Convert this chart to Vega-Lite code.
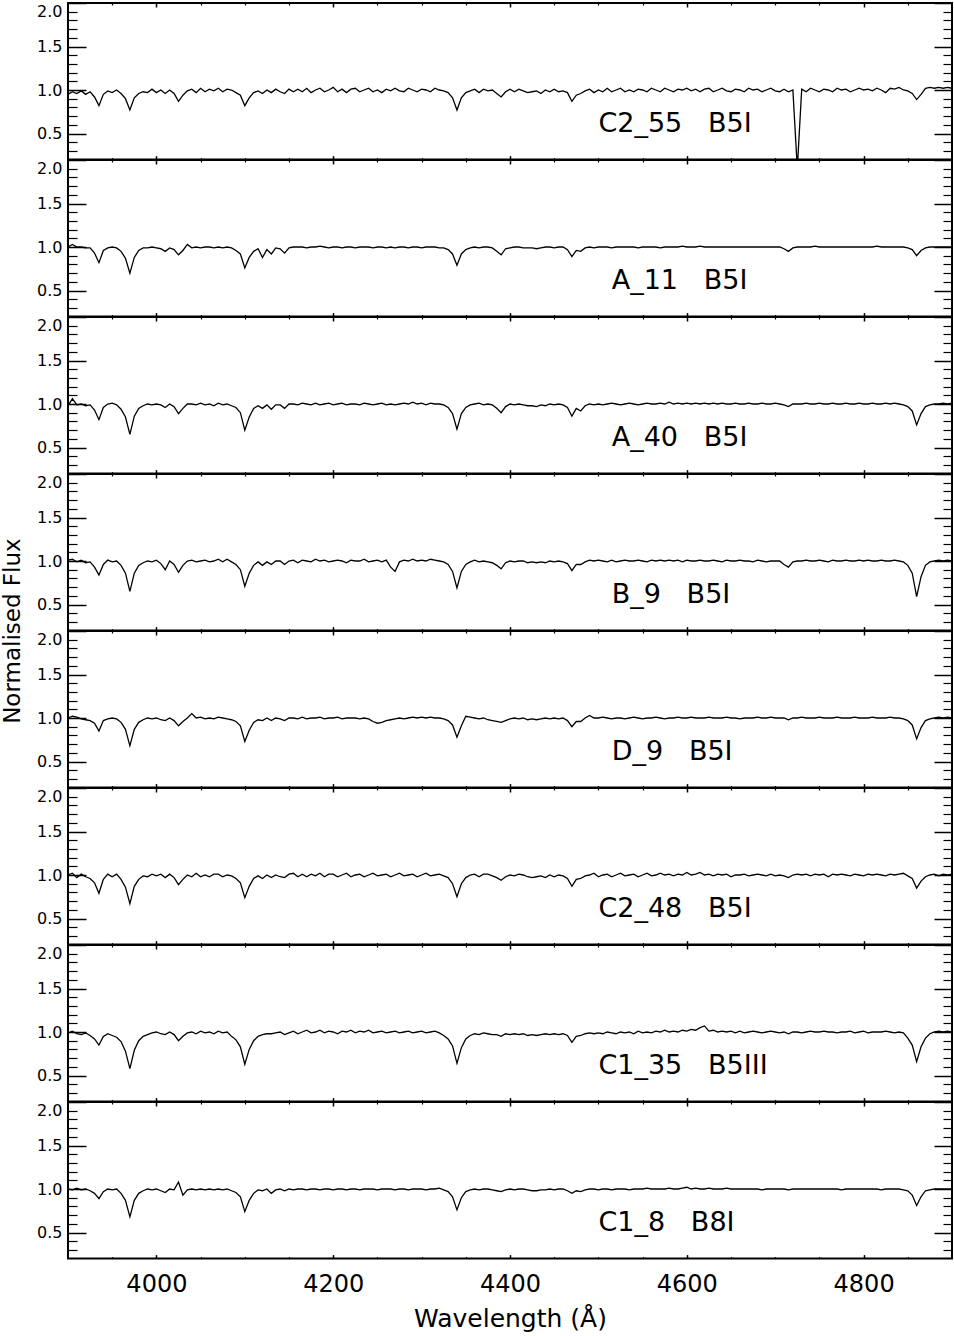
{
"$schema":"https://vega.github.io/schema/vega-lite/v6.json",
"padding":{"left":0,"top":1,"right":1,"bottom":0},
"spacing":0,
"bounds":"flush",
"config":{"view":{"stroke":"black","strokeWidth":2},"axis":{"domain":false,"grid":false,"minExtent":0,"tickColor":"black","labelColor":"black","titleColor":"black","labelFont":"DejaVu Sans","titleFont":"DejaVu Sans","titleFontWeight":"normal"}},
"datasets":{"labels":[
{"key":"C2_55","label":"C2_55\u00a0\u00a0\u00a0B5I"},
{"key":"A_11","label":"A_11\u00a0\u00a0\u00a0B5I"},
{"key":"A_40","label":"A_40\u00a0\u00a0\u00a0B5I"},
{"key":"B_9","label":"B_9\u00a0\u00a0\u00a0B5I"},
{"key":"D_9","label":"D_9\u00a0\u00a0\u00a0B5I"},
{"key":"C2_48","label":"C2_48\u00a0\u00a0\u00a0B5I"},
{"key":"C1_35","label":"C1_35\u00a0\u00a0\u00a0B5III"},
{"key":"C1_8","label":"C1_8\u00a0\u00a0\u00a0B8I"}
]},
"data":{"values":[
{"w":3900,"C2_55":0.95,"A_11":1.00,"A_40":0.98,"B_9":1.01,"D_9":1.00,"C2_48":1.00,"C1_35":0.99,"C1_8":1.00},
{"w":3905,"C2_55":0.98,"A_11":1.03,"A_40":1.06,"B_9":1.02,"D_9":1.02,"C2_48":1.02,"C1_35":1.01,"C1_8":0.99},
{"w":3910,"C2_55":0.96,"A_11":1.00,"A_40":0.99,"B_9":0.99,"D_9":1.01,"C2_48":0.97,"C1_35":0.98,"C1_8":1.01},
{"w":3915,"C2_55":0.99,"A_11":1.00,"A_40":1.00,"B_9":1.01,"D_9":0.99,"C2_48":1.01,"C1_35":0.97,"C1_8":0.99},
{"w":3920,"C2_55":0.95,"A_11":0.99,"A_40":0.98,"B_9":0.98,"D_9":0.98,"C2_48":0.98,"C1_35":0.99,"C1_8":1.00},
{"w":3925,"C2_55":0.98,"A_11":0.99,"A_40":0.99,"B_9":0.99,"D_9":0.97,"C2_48":0.96,"C1_35":0.96,"C1_8":0.98},
{"w":3930,"C2_55":0.92,"A_11":0.93,"A_40":0.93,"B_9":0.93,"D_9":0.94,"C2_48":0.91,"C1_35":0.92,"C1_8":0.95},
{"w":3935,"C2_55":0.82,"A_11":0.82,"A_40":0.82,"B_9":0.84,"D_9":0.85,"C2_48":0.79,"C1_35":0.85,"C1_8":0.89},
{"w":3940,"C2_55":0.95,"A_11":0.96,"A_40":0.96,"B_9":0.96,"D_9":0.97,"C2_48":0.95,"C1_35":0.95,"C1_8":0.97},
{"w":3945,"C2_55":0.99,"A_11":0.99,"A_40":1.00,"B_9":1.01,"D_9":0.99,"C2_48":1.01,"C1_35":0.98,"C1_8":1.00},
{"w":3950,"C2_55":0.97,"A_11":1.00,"A_40":1.01,"B_9":0.99,"D_9":1.00,"C2_48":0.98,"C1_35":0.96,"C1_8":0.99},
{"w":3955,"C2_55":1.00,"A_11":0.99,"A_40":0.99,"B_9":1.00,"D_9":0.99,"C2_48":1.01,"C1_35":0.94,"C1_8":1.00},
{"w":3960,"C2_55":0.96,"A_11":0.95,"A_40":0.94,"B_9":0.95,"D_9":0.95,"C2_48":0.95,"C1_35":0.89,"C1_8":0.95},
{"w":3965,"C2_55":0.90,"A_11":0.87,"A_40":0.85,"B_9":0.86,"D_9":0.87,"C2_48":0.86,"C1_35":0.78,"C1_8":0.87},
{"w":3970,"C2_55":0.77,"A_11":0.70,"A_40":0.65,"B_9":0.65,"D_9":0.68,"C2_48":0.67,"C1_35":0.58,"C1_8":0.68},
{"w":3975,"C2_55":0.91,"A_11":0.88,"A_40":0.86,"B_9":0.86,"D_9":0.87,"C2_48":0.87,"C1_35":0.79,"C1_8":0.87},
{"w":3980,"C2_55":0.96,"A_11":0.96,"A_40":0.95,"B_9":0.95,"D_9":0.95,"C2_48":0.95,"C1_35":0.90,"C1_8":0.95},
{"w":3985,"C2_55":0.98,"A_11":0.99,"A_40":0.98,"B_9":0.98,"D_9":0.98,"C2_48":0.99,"C1_35":0.95,"C1_8":0.98},
{"w":3990,"C2_55":0.97,"A_11":0.99,"A_40":1.00,"B_9":1.00,"D_9":1.00,"C2_48":0.98,"C1_35":0.97,"C1_8":1.00},
{"w":3995,"C2_55":1.01,"A_11":1.00,"A_40":0.99,"B_9":0.99,"D_9":0.99,"C2_48":1.01,"C1_35":0.99,"C1_8":0.99},
{"w":4000,"C2_55":0.97,"A_11":0.99,"A_40":1.00,"B_9":1.01,"D_9":1.00,"C2_48":0.99,"C1_35":1.00,"C1_8":1.00},
{"w":4005,"C2_55":1.00,"A_11":0.98,"A_40":0.99,"B_9":0.97,"D_9":0.98,"C2_48":1.01,"C1_35":0.98,"C1_8":0.98},
{"w":4010,"C2_55":0.96,"A_11":0.95,"A_40":0.96,"B_9":0.90,"D_9":0.97,"C2_48":0.97,"C1_35":0.97,"C1_8":0.96},
{"w":4015,"C2_55":1.00,"A_11":0.99,"A_40":1.00,"B_9":1.00,"D_9":1.00,"C2_48":1.01,"C1_35":1.00,"C1_8":1.00},
{"w":4020,"C2_55":0.96,"A_11":0.97,"A_40":0.97,"B_9":0.96,"D_9":0.97,"C2_48":0.97,"C1_35":0.97,"C1_8":0.99},
{"w":4025,"C2_55":0.87,"A_11":0.91,"A_40":0.89,"B_9":0.87,"D_9":0.91,"C2_48":0.89,"C1_35":0.90,"C1_8":1.08},
{"w":4030,"C2_55":0.94,"A_11":0.96,"A_40":0.95,"B_9":0.95,"D_9":0.96,"C2_48":0.95,"C1_35":0.95,"C1_8":0.93},
{"w":4035,"C2_55":0.99,"A_11":1.03,"A_40":1.00,"B_9":1.00,"D_9":1.00,"C2_48":1.00,"C1_35":0.99,"C1_8":0.99},
{"w":4040,"C2_55":1.01,"A_11":0.99,"A_40":1.00,"B_9":1.01,"D_9":1.05,"C2_48":0.98,"C1_35":1.00,"C1_8":1.00},
{"w":4045,"C2_55":0.97,"A_11":1.00,"A_40":0.99,"B_9":0.99,"D_9":1.00,"C2_48":1.02,"C1_35":0.98,"C1_8":0.99},
{"w":4050,"C2_55":1.02,"A_11":0.99,"A_40":1.01,"B_9":1.00,"D_9":1.01,"C2_48":0.98,"C1_35":1.01,"C1_8":1.00},
{"w":4055,"C2_55":0.98,"A_11":1.00,"A_40":0.99,"B_9":1.01,"D_9":0.99,"C2_48":1.00,"C1_35":0.99,"C1_8":0.99},
{"w":4060,"C2_55":1.01,"A_11":1.00,"A_40":1.00,"B_9":0.99,"D_9":1.00,"C2_48":0.98,"C1_35":1.00,"C1_8":1.00},
{"w":4065,"C2_55":0.99,"A_11":0.99,"A_40":0.98,"B_9":1.00,"D_9":0.99,"C2_48":1.01,"C1_35":0.98,"C1_8":0.99},
{"w":4070,"C2_55":1.02,"A_11":1.00,"A_40":1.01,"B_9":1.02,"D_9":1.01,"C2_48":1.01,"C1_35":1.01,"C1_8":1.00},
{"w":4075,"C2_55":0.98,"A_11":0.99,"A_40":0.99,"B_9":0.99,"D_9":1.00,"C2_48":0.98,"C1_35":0.99,"C1_8":0.99},
{"w":4080,"C2_55":1.01,"A_11":1.00,"A_40":1.00,"B_9":1.02,"D_9":0.99,"C2_48":1.00,"C1_35":1.00,"C1_8":1.00},
{"w":4085,"C2_55":1.00,"A_11":0.99,"A_40":0.98,"B_9":0.99,"D_9":0.98,"C2_48":0.99,"C1_35":0.95,"C1_8":0.98},
{"w":4090,"C2_55":0.97,"A_11":0.96,"A_40":0.96,"B_9":0.96,"D_9":0.96,"C2_48":0.96,"C1_35":0.91,"C1_8":0.96},
{"w":4095,"C2_55":0.94,"A_11":0.92,"A_40":0.90,"B_9":0.90,"D_9":0.91,"C2_48":0.91,"C1_35":0.83,"C1_8":0.91},
{"w":4100,"C2_55":0.82,"A_11":0.76,"A_40":0.70,"B_9":0.71,"D_9":0.73,"C2_48":0.74,"C1_35":0.63,"C1_8":0.74},
{"w":4105,"C2_55":0.91,"A_11":0.88,"A_40":0.85,"B_9":0.86,"D_9":0.86,"C2_48":0.87,"C1_35":0.80,"C1_8":0.87},
{"w":4110,"C2_55":0.97,"A_11":0.95,"A_40":0.95,"B_9":0.95,"D_9":0.95,"C2_48":0.96,"C1_35":0.90,"C1_8":0.95},
{"w":4115,"C2_55":0.99,"A_11":0.98,"A_40":0.98,"B_9":0.99,"D_9":0.98,"C2_48":0.99,"C1_35":0.95,"C1_8":0.99},
{"w":4120,"C2_55":0.96,"A_11":0.88,"A_40":0.95,"B_9":0.95,"D_9":0.97,"C2_48":0.96,"C1_35":0.97,"C1_8":0.98},
{"w":4125,"C2_55":1.00,"A_11":0.97,"A_40":0.99,"B_9":0.99,"D_9":1.00,"C2_48":1.00,"C1_35":0.98,"C1_8":1.00},
{"w":4130,"C2_55":0.97,"A_11":0.92,"A_40":0.94,"B_9":0.96,"D_9":0.97,"C2_48":0.97,"C1_35":0.98,"C1_8":0.95},
{"w":4135,"C2_55":1.01,"A_11":0.99,"A_40":0.99,"B_9":1.00,"D_9":1.00,"C2_48":1.00,"C1_35":0.99,"C1_8":0.99},
{"w":4140,"C2_55":0.98,"A_11":0.98,"A_40":0.99,"B_9":1.00,"D_9":0.99,"C2_48":0.98,"C1_35":1.00,"C1_8":1.00},
{"w":4145,"C2_55":0.96,"A_11":0.93,"A_40":0.95,"B_9":0.96,"D_9":0.97,"C2_48":0.97,"C1_35":0.97,"C1_8":0.98},
{"w":4150,"C2_55":1.01,"A_11":0.99,"A_40":1.00,"B_9":1.00,"D_9":1.00,"C2_48":1.01,"C1_35":0.99,"C1_8":1.00},
{"w":4155,"C2_55":0.98,"A_11":1.00,"A_40":1.00,"B_9":1.01,"D_9":1.00,"C2_48":1.02,"C1_35":1.01,"C1_8":0.99},
{"w":4160,"C2_55":1.01,"A_11":1.00,"A_40":0.99,"B_9":0.98,"D_9":0.99,"C2_48":0.98,"C1_35":0.98,"C1_8":1.00},
{"w":4165,"C2_55":0.98,"A_11":1.00,"A_40":1.01,"B_9":1.01,"D_9":1.01,"C2_48":1.01,"C1_35":1.00,"C1_8":1.00},
{"w":4170,"C2_55":1.02,"A_11":0.99,"A_40":1.00,"B_9":1.00,"D_9":0.99,"C2_48":0.98,"C1_35":1.02,"C1_8":0.99},
{"w":4175,"C2_55":0.97,"A_11":1.00,"A_40":0.99,"B_9":0.99,"D_9":1.00,"C2_48":1.01,"C1_35":0.99,"C1_8":1.00},
{"w":4180,"C2_55":1.00,"A_11":1.00,"A_40":1.01,"B_9":1.02,"D_9":1.00,"C2_48":0.99,"C1_35":1.00,"C1_8":1.00},
{"w":4185,"C2_55":1.02,"A_11":1.01,"A_40":0.99,"B_9":1.00,"D_9":1.01,"C2_48":1.02,"C1_35":1.02,"C1_8":0.99},
{"w":4190,"C2_55":0.98,"A_11":1.00,"A_40":1.00,"B_9":1.01,"D_9":0.99,"C2_48":0.98,"C1_35":0.99,"C1_8":1.00},
{"w":4195,"C2_55":1.00,"A_11":0.99,"A_40":1.01,"B_9":0.99,"D_9":1.00,"C2_48":1.01,"C1_35":1.01,"C1_8":1.00},
{"w":4200,"C2_55":1.03,"A_11":1.00,"A_40":0.99,"B_9":1.00,"D_9":1.00,"C2_48":1.01,"C1_35":1.00,"C1_8":0.99},
{"w":4205,"C2_55":0.98,"A_11":1.00,"A_40":1.00,"B_9":1.01,"D_9":1.01,"C2_48":0.98,"C1_35":0.98,"C1_8":1.00},
{"w":4210,"C2_55":1.01,"A_11":0.99,"A_40":1.01,"B_9":1.00,"D_9":0.99,"C2_48":1.00,"C1_35":1.01,"C1_8":1.00},
{"w":4215,"C2_55":0.97,"A_11":1.00,"A_40":0.99,"B_9":0.98,"D_9":1.00,"C2_48":1.02,"C1_35":1.00,"C1_8":0.99},
{"w":4220,"C2_55":1.01,"A_11":1.00,"A_40":1.00,"B_9":1.01,"D_9":1.00,"C2_48":0.98,"C1_35":1.02,"C1_8":1.00},
{"w":4225,"C2_55":1.02,"A_11":0.99,"A_40":1.00,"B_9":1.00,"D_9":1.00,"C2_48":1.00,"C1_35":0.99,"C1_8":1.00},
{"w":4230,"C2_55":0.98,"A_11":1.00,"A_40":0.99,"B_9":1.00,"D_9":0.99,"C2_48":1.01,"C1_35":1.01,"C1_8":0.99},
{"w":4235,"C2_55":1.00,"A_11":1.00,"A_40":1.01,"B_9":1.02,"D_9":1.00,"C2_48":0.98,"C1_35":1.00,"C1_8":1.00},
{"w":4240,"C2_55":1.02,"A_11":1.00,"A_40":1.00,"B_9":0.99,"D_9":0.99,"C2_48":1.00,"C1_35":1.02,"C1_8":1.00},
{"w":4245,"C2_55":0.98,"A_11":0.99,"A_40":0.99,"B_9":1.00,"D_9":0.96,"C2_48":1.02,"C1_35":0.99,"C1_8":1.00},
{"w":4250,"C2_55":1.00,"A_11":1.00,"A_40":1.00,"B_9":1.01,"D_9":0.94,"C2_48":0.99,"C1_35":1.00,"C1_8":0.99},
{"w":4255,"C2_55":0.97,"A_11":1.00,"A_40":1.01,"B_9":0.99,"D_9":0.95,"C2_48":1.00,"C1_35":1.01,"C1_8":1.00},
{"w":4260,"C2_55":1.01,"A_11":0.99,"A_40":0.99,"B_9":1.01,"D_9":0.97,"C2_48":1.01,"C1_35":0.99,"C1_8":1.00},
{"w":4265,"C2_55":0.99,"A_11":1.00,"A_40":1.00,"B_9":0.93,"D_9":0.98,"C2_48":0.98,"C1_35":1.00,"C1_8":1.00},
{"w":4270,"C2_55":1.02,"A_11":0.99,"A_40":0.99,"B_9":0.88,"D_9":0.99,"C2_48":1.00,"C1_35":1.01,"C1_8":0.99},
{"w":4275,"C2_55":0.99,"A_11":1.00,"A_40":1.00,"B_9":0.99,"D_9":1.00,"C2_48":1.02,"C1_35":0.99,"C1_8":1.00},
{"w":4280,"C2_55":0.98,"A_11":1.00,"A_40":1.01,"B_9":1.01,"D_9":0.99,"C2_48":0.99,"C1_35":1.00,"C1_8":1.00},
{"w":4285,"C2_55":1.02,"A_11":0.99,"A_40":1.00,"B_9":1.00,"D_9":1.00,"C2_48":1.00,"C1_35":1.01,"C1_8":0.99},
{"w":4290,"C2_55":1.00,"A_11":1.00,"A_40":1.02,"B_9":1.02,"D_9":1.01,"C2_48":1.01,"C1_35":0.99,"C1_8":1.00},
{"w":4295,"C2_55":0.98,"A_11":1.00,"A_40":1.00,"B_9":1.00,"D_9":1.00,"C2_48":0.98,"C1_35":1.00,"C1_8":1.00},
{"w":4300,"C2_55":1.01,"A_11":0.99,"A_40":1.01,"B_9":1.01,"D_9":1.01,"C2_48":1.00,"C1_35":1.01,"C1_8":1.00},
{"w":4305,"C2_55":1.00,"A_11":1.00,"A_40":0.99,"B_9":1.00,"D_9":1.00,"C2_48":1.02,"C1_35":0.99,"C1_8":0.99},
{"w":4310,"C2_55":0.98,"A_11":1.00,"A_40":1.01,"B_9":1.02,"D_9":1.01,"C2_48":0.99,"C1_35":1.00,"C1_8":1.00},
{"w":4315,"C2_55":1.02,"A_11":1.00,"A_40":1.00,"B_9":1.01,"D_9":1.00,"C2_48":1.00,"C1_35":1.01,"C1_8":1.00},
{"w":4320,"C2_55":1.00,"A_11":0.99,"A_40":1.00,"B_9":1.00,"D_9":1.00,"C2_48":1.01,"C1_35":0.99,"C1_8":1.01},
{"w":4325,"C2_55":0.99,"A_11":0.99,"A_40":0.99,"B_9":0.99,"D_9":0.99,"C2_48":0.99,"C1_35":0.96,"C1_8":0.99},
{"w":4330,"C2_55":0.97,"A_11":0.97,"A_40":0.96,"B_9":0.96,"D_9":0.97,"C2_48":0.97,"C1_35":0.92,"C1_8":0.97},
{"w":4335,"C2_55":0.91,"A_11":0.92,"A_40":0.89,"B_9":0.88,"D_9":0.92,"C2_48":0.90,"C1_35":0.84,"C1_8":0.91},
{"w":4340,"C2_55":0.77,"A_11":0.79,"A_40":0.71,"B_9":0.69,"D_9":0.78,"C2_48":0.75,"C1_35":0.64,"C1_8":0.76},
{"w":4345,"C2_55":0.91,"A_11":0.92,"A_40":0.89,"B_9":0.88,"D_9":0.91,"C2_48":0.90,"C1_35":0.82,"C1_8":0.90},
{"w":4350,"C2_55":0.97,"A_11":0.97,"A_40":0.96,"B_9":0.96,"D_9":1.02,"C2_48":0.97,"C1_35":0.92,"C1_8":0.97},
{"w":4355,"C2_55":0.99,"A_11":0.99,"A_40":0.99,"B_9":0.99,"D_9":1.01,"C2_48":1.00,"C1_35":0.96,"C1_8":0.99},
{"w":4360,"C2_55":1.01,"A_11":1.00,"A_40":1.00,"B_9":1.01,"D_9":1.00,"C2_48":1.01,"C1_35":0.98,"C1_8":1.00},
{"w":4365,"C2_55":0.97,"A_11":0.99,"A_40":1.01,"B_9":0.99,"D_9":0.99,"C2_48":0.98,"C1_35":0.97,"C1_8":0.99},
{"w":4370,"C2_55":1.01,"A_11":1.00,"A_40":0.99,"B_9":1.00,"D_9":1.00,"C2_48":1.01,"C1_35":0.99,"C1_8":1.00},
{"w":4375,"C2_55":0.99,"A_11":1.00,"A_40":1.00,"B_9":0.99,"D_9":0.98,"C2_48":1.01,"C1_35":0.98,"C1_8":1.00},
{"w":4380,"C2_55":1.00,"A_11":0.99,"A_40":0.99,"B_9":0.98,"D_9":0.97,"C2_48":0.99,"C1_35":0.97,"C1_8":0.99},
{"w":4385,"C2_55":0.96,"A_11":0.95,"A_40":0.95,"B_9":0.95,"D_9":0.96,"C2_48":0.97,"C1_35":0.97,"C1_8":0.98},
{"w":4390,"C2_55":0.92,"A_11":0.91,"A_40":0.90,"B_9":0.91,"D_9":0.95,"C2_48":0.94,"C1_35":0.95,"C1_8":0.97},
{"w":4395,"C2_55":0.98,"A_11":0.98,"A_40":0.97,"B_9":0.98,"D_9":0.97,"C2_48":0.98,"C1_35":0.98,"C1_8":0.99},
{"w":4400,"C2_55":1.01,"A_11":0.99,"A_40":1.00,"B_9":1.00,"D_9":0.99,"C2_48":1.00,"C1_35":0.97,"C1_8":1.00},
{"w":4405,"C2_55":0.98,"A_11":1.00,"A_40":0.99,"B_9":0.99,"D_9":1.00,"C2_48":0.99,"C1_35":0.98,"C1_8":0.99},
{"w":4410,"C2_55":1.01,"A_11":1.00,"A_40":1.00,"B_9":1.00,"D_9":0.99,"C2_48":1.01,"C1_35":0.97,"C1_8":1.00},
{"w":4415,"C2_55":0.99,"A_11":0.99,"A_40":0.99,"B_9":1.00,"D_9":1.00,"C2_48":1.00,"C1_35":0.98,"C1_8":1.00},
{"w":4420,"C2_55":0.97,"A_11":0.99,"A_40":0.98,"B_9":0.98,"D_9":0.98,"C2_48":0.98,"C1_35":0.96,"C1_8":0.99},
{"w":4425,"C2_55":0.98,"A_11":0.99,"A_40":0.98,"B_9":0.99,"D_9":0.99,"C2_48":0.97,"C1_35":0.97,"C1_8":0.98},
{"w":4430,"C2_55":0.99,"A_11":0.98,"A_40":0.97,"B_9":0.98,"D_9":0.98,"C2_48":0.98,"C1_35":0.96,"C1_8":0.98},
{"w":4435,"C2_55":0.96,"A_11":0.99,"A_40":0.99,"B_9":0.99,"D_9":0.99,"C2_48":0.99,"C1_35":0.97,"C1_8":0.99},
{"w":4440,"C2_55":1.00,"A_11":1.00,"A_40":0.98,"B_9":0.98,"D_9":1.00,"C2_48":0.97,"C1_35":0.98,"C1_8":0.99},
{"w":4445,"C2_55":0.98,"A_11":1.00,"A_40":1.00,"B_9":1.00,"D_9":0.99,"C2_48":1.00,"C1_35":0.97,"C1_8":1.00},
{"w":4450,"C2_55":1.01,"A_11":0.99,"A_40":0.99,"B_9":0.99,"D_9":1.00,"C2_48":0.98,"C1_35":0.98,"C1_8":0.99},
{"w":4455,"C2_55":0.98,"A_11":1.00,"A_40":1.00,"B_9":1.00,"D_9":0.99,"C2_48":1.00,"C1_35":0.97,"C1_8":1.00},
{"w":4460,"C2_55":0.99,"A_11":1.00,"A_40":0.99,"B_9":0.99,"D_9":1.00,"C2_48":0.99,"C1_35":0.98,"C1_8":1.00},
{"w":4465,"C2_55":0.97,"A_11":0.97,"A_40":0.96,"B_9":0.97,"D_9":0.97,"C2_48":0.96,"C1_35":0.96,"C1_8":0.98},
{"w":4470,"C2_55":0.87,"A_11":0.89,"A_40":0.86,"B_9":0.89,"D_9":0.90,"C2_48":0.87,"C1_35":0.88,"C1_8":0.95},
{"w":4475,"C2_55":0.94,"A_11":0.96,"A_40":0.95,"B_9":0.96,"D_9":0.96,"C2_48":0.95,"C1_35":0.95,"C1_8":0.98},
{"w":4480,"C2_55":0.96,"A_11":0.95,"A_40":0.92,"B_9":0.96,"D_9":0.96,"C2_48":0.96,"C1_35":0.96,"C1_8":0.97},
{"w":4485,"C2_55":0.99,"A_11":0.99,"A_40":0.98,"B_9":0.99,"D_9":1.00,"C2_48":0.99,"C1_35":0.98,"C1_8":0.99},
{"w":4490,"C2_55":1.01,"A_11":1.00,"A_40":1.00,"B_9":1.01,"D_9":1.03,"C2_48":1.00,"C1_35":0.99,"C1_8":1.00},
{"w":4495,"C2_55":0.97,"A_11":0.99,"A_40":0.99,"B_9":1.00,"D_9":1.00,"C2_48":1.02,"C1_35":0.98,"C1_8":1.00},
{"w":4500,"C2_55":1.00,"A_11":1.00,"A_40":1.00,"B_9":1.01,"D_9":1.00,"C2_48":0.98,"C1_35":0.99,"C1_8":0.99},
{"w":4505,"C2_55":0.98,"A_11":1.00,"A_40":0.99,"B_9":1.00,"D_9":1.01,"C2_48":1.00,"C1_35":0.98,"C1_8":1.00},
{"w":4510,"C2_55":1.02,"A_11":1.00,"A_40":1.00,"B_9":0.99,"D_9":1.00,"C2_48":1.01,"C1_35":1.00,"C1_8":1.00},
{"w":4515,"C2_55":0.98,"A_11":0.99,"A_40":1.01,"B_9":1.01,"D_9":0.99,"C2_48":0.98,"C1_35":0.99,"C1_8":0.99},
{"w":4520,"C2_55":1.00,"A_11":1.00,"A_40":1.00,"B_9":0.99,"D_9":1.00,"C2_48":1.00,"C1_35":0.98,"C1_8":1.00},
{"w":4525,"C2_55":1.02,"A_11":1.00,"A_40":0.99,"B_9":1.00,"D_9":1.00,"C2_48":1.02,"C1_35":1.00,"C1_8":1.00},
{"w":4530,"C2_55":0.98,"A_11":1.00,"A_40":1.00,"B_9":1.01,"D_9":0.99,"C2_48":0.99,"C1_35":0.99,"C1_8":1.00},
{"w":4535,"C2_55":1.00,"A_11":1.00,"A_40":1.01,"B_9":1.00,"D_9":1.00,"C2_48":1.00,"C1_35":1.00,"C1_8":0.99},
{"w":4540,"C2_55":0.98,"A_11":1.00,"A_40":1.00,"B_9":1.00,"D_9":1.01,"C2_48":1.01,"C1_35":0.98,"C1_8":1.00},
{"w":4545,"C2_55":1.01,"A_11":0.99,"A_40":0.99,"B_9":1.01,"D_9":1.00,"C2_48":0.98,"C1_35":1.01,"C1_8":1.00},
{"w":4550,"C2_55":1.00,"A_11":1.00,"A_40":1.00,"B_9":1.00,"D_9":0.99,"C2_48":1.00,"C1_35":0.99,"C1_8":1.00},
{"w":4555,"C2_55":0.98,"A_11":1.00,"A_40":1.01,"B_9":0.99,"D_9":1.00,"C2_48":1.02,"C1_35":1.00,"C1_8":1.01},
{"w":4560,"C2_55":1.02,"A_11":1.00,"A_40":1.00,"B_9":1.01,"D_9":1.00,"C2_48":0.99,"C1_35":0.99,"C1_8":1.00},
{"w":4565,"C2_55":1.00,"A_11":1.00,"A_40":1.00,"B_9":1.00,"D_9":1.01,"C2_48":1.00,"C1_35":1.01,"C1_8":1.00},
{"w":4570,"C2_55":0.98,"A_11":0.99,"A_40":1.01,"B_9":1.01,"D_9":1.00,"C2_48":1.02,"C1_35":1.00,"C1_8":1.00},
{"w":4575,"C2_55":1.02,"A_11":1.00,"A_40":1.00,"B_9":1.00,"D_9":0.99,"C2_48":1.00,"C1_35":1.02,"C1_8":1.00},
{"w":4580,"C2_55":1.00,"A_11":1.00,"A_40":1.02,"B_9":1.01,"D_9":1.00,"C2_48":1.01,"C1_35":1.00,"C1_8":1.01},
{"w":4585,"C2_55":0.98,"A_11":1.00,"A_40":1.00,"B_9":1.00,"D_9":1.00,"C2_48":0.99,"C1_35":1.01,"C1_8":1.00},
{"w":4590,"C2_55":1.01,"A_11":1.00,"A_40":1.01,"B_9":1.01,"D_9":1.01,"C2_48":1.01,"C1_35":1.00,"C1_8":1.00},
{"w":4595,"C2_55":1.00,"A_11":1.01,"A_40":1.00,"B_9":0.99,"D_9":1.00,"C2_48":1.00,"C1_35":1.02,"C1_8":1.01},
{"w":4600,"C2_55":1.02,"A_11":1.00,"A_40":1.01,"B_9":1.01,"D_9":1.00,"C2_48":1.03,"C1_35":1.01,"C1_8":1.02},
{"w":4605,"C2_55":0.99,"A_11":1.00,"A_40":1.00,"B_9":1.00,"D_9":1.01,"C2_48":1.00,"C1_35":1.03,"C1_8":1.00},
{"w":4610,"C2_55":1.01,"A_11":1.00,"A_40":1.01,"B_9":1.00,"D_9":1.00,"C2_48":1.01,"C1_35":1.02,"C1_8":1.01},
{"w":4615,"C2_55":0.98,"A_11":1.01,"A_40":1.00,"B_9":1.01,"D_9":1.00,"C2_48":1.03,"C1_35":1.05,"C1_8":1.00},
{"w":4620,"C2_55":1.01,"A_11":1.00,"A_40":1.01,"B_9":1.00,"D_9":1.00,"C2_48":1.00,"C1_35":1.07,"C1_8":1.00},
{"w":4625,"C2_55":1.02,"A_11":1.00,"A_40":1.00,"B_9":1.00,"D_9":1.01,"C2_48":1.01,"C1_35":1.01,"C1_8":1.01},
{"w":4630,"C2_55":0.98,"A_11":1.00,"A_40":1.01,"B_9":1.01,"D_9":1.00,"C2_48":0.99,"C1_35":1.02,"C1_8":1.00},
{"w":4635,"C2_55":1.00,"A_11":1.00,"A_40":1.00,"B_9":1.00,"D_9":1.00,"C2_48":1.01,"C1_35":1.00,"C1_8":1.00},
{"w":4640,"C2_55":1.02,"A_11":1.00,"A_40":1.01,"B_9":0.99,"D_9":1.00,"C2_48":1.00,"C1_35":1.01,"C1_8":1.00},
{"w":4645,"C2_55":0.99,"A_11":1.00,"A_40":1.00,"B_9":1.01,"D_9":1.01,"C2_48":1.01,"C1_35":1.00,"C1_8":1.01},
{"w":4650,"C2_55":0.98,"A_11":1.00,"A_40":1.00,"B_9":1.00,"D_9":1.00,"C2_48":0.98,"C1_35":1.01,"C1_8":1.00},
{"w":4655,"C2_55":1.01,"A_11":1.00,"A_40":1.01,"B_9":1.00,"D_9":1.00,"C2_48":1.00,"C1_35":0.99,"C1_8":1.00},
{"w":4660,"C2_55":1.00,"A_11":1.00,"A_40":1.00,"B_9":1.01,"D_9":0.99,"C2_48":1.00,"C1_35":1.01,"C1_8":1.00},
{"w":4665,"C2_55":0.98,"A_11":1.00,"A_40":1.00,"B_9":1.00,"D_9":1.00,"C2_48":1.01,"C1_35":0.99,"C1_8":1.00},
{"w":4670,"C2_55":1.02,"A_11":1.00,"A_40":1.01,"B_9":1.00,"D_9":1.00,"C2_48":0.99,"C1_35":1.00,"C1_8":1.00},
{"w":4675,"C2_55":1.00,"A_11":1.00,"A_40":1.00,"B_9":0.99,"D_9":1.00,"C2_48":1.00,"C1_35":1.01,"C1_8":1.00},
{"w":4680,"C2_55":1.01,"A_11":1.00,"A_40":1.00,"B_9":1.01,"D_9":1.01,"C2_48":1.01,"C1_35":1.00,"C1_8":1.00},
{"w":4685,"C2_55":0.98,"A_11":1.00,"A_40":1.01,"B_9":1.00,"D_9":1.00,"C2_48":1.00,"C1_35":0.99,"C1_8":0.99},
{"w":4690,"C2_55":1.00,"A_11":1.00,"A_40":1.00,"B_9":0.99,"D_9":1.00,"C2_48":0.99,"C1_35":1.00,"C1_8":1.00},
{"w":4695,"C2_55":1.02,"A_11":1.00,"A_40":1.00,"B_9":1.00,"D_9":1.01,"C2_48":1.01,"C1_35":1.01,"C1_8":1.00},
{"w":4700,"C2_55":0.99,"A_11":1.00,"A_40":1.01,"B_9":1.00,"D_9":1.00,"C2_48":0.99,"C1_35":1.00,"C1_8":1.00},
{"w":4705,"C2_55":0.98,"A_11":1.00,"A_40":1.00,"B_9":1.00,"D_9":1.00,"C2_48":1.00,"C1_35":0.99,"C1_8":1.00},
{"w":4710,"C2_55":1.01,"A_11":0.98,"A_40":0.99,"B_9":0.96,"D_9":1.00,"C2_48":0.99,"C1_35":1.00,"C1_8":1.00},
{"w":4715,"C2_55":0.98,"A_11":0.95,"A_40":0.97,"B_9":0.93,"D_9":0.98,"C2_48":0.97,"C1_35":0.98,"C1_8":0.99},
{"w":4720,"C2_55":1.00,"A_11":0.99,"A_40":1.00,"B_9":0.99,"D_9":1.00,"C2_48":1.00,"C1_35":1.00,"C1_8":1.00},
{"w":4725,"C2_55":0.10,"A_11":1.00,"A_40":1.00,"B_9":1.00,"D_9":1.00,"C2_48":1.01,"C1_35":1.00,"C1_8":1.00},
{"w":4730,"C2_55":1.01,"A_11":1.00,"A_40":1.00,"B_9":1.00,"D_9":1.01,"C2_48":1.00,"C1_35":0.99,"C1_8":1.00},
{"w":4735,"C2_55":0.98,"A_11":1.00,"A_40":1.01,"B_9":1.01,"D_9":1.00,"C2_48":1.01,"C1_35":1.00,"C1_8":1.00},
{"w":4740,"C2_55":1.02,"A_11":1.00,"A_40":1.00,"B_9":1.00,"D_9":1.00,"C2_48":0.99,"C1_35":1.01,"C1_8":1.00},
{"w":4745,"C2_55":1.00,"A_11":1.01,"A_40":1.00,"B_9":1.00,"D_9":1.00,"C2_48":1.01,"C1_35":1.00,"C1_8":1.00},
{"w":4750,"C2_55":0.98,"A_11":1.00,"A_40":1.01,"B_9":1.01,"D_9":1.01,"C2_48":1.00,"C1_35":1.00,"C1_8":1.00},
{"w":4755,"C2_55":1.01,"A_11":1.00,"A_40":1.00,"B_9":1.00,"D_9":1.00,"C2_48":1.01,"C1_35":1.01,"C1_8":1.00},
{"w":4760,"C2_55":1.00,"A_11":1.00,"A_40":1.00,"B_9":0.99,"D_9":1.00,"C2_48":0.98,"C1_35":1.00,"C1_8":1.00},
{"w":4765,"C2_55":0.98,"A_11":1.00,"A_40":1.01,"B_9":1.01,"D_9":1.00,"C2_48":1.01,"C1_35":1.00,"C1_8":1.00},
{"w":4770,"C2_55":1.02,"A_11":1.00,"A_40":1.00,"B_9":1.00,"D_9":1.01,"C2_48":1.00,"C1_35":0.99,"C1_8":1.00},
{"w":4775,"C2_55":1.00,"A_11":1.00,"A_40":1.00,"B_9":1.00,"D_9":1.00,"C2_48":1.01,"C1_35":1.00,"C1_8":0.99},
{"w":4780,"C2_55":1.01,"A_11":1.00,"A_40":1.01,"B_9":1.01,"D_9":1.00,"C2_48":1.00,"C1_35":1.00,"C1_8":1.00},
{"w":4785,"C2_55":0.98,"A_11":1.00,"A_40":1.00,"B_9":1.00,"D_9":1.00,"C2_48":0.99,"C1_35":1.01,"C1_8":1.00},
{"w":4790,"C2_55":1.00,"A_11":1.00,"A_40":1.00,"B_9":1.00,"D_9":1.01,"C2_48":1.01,"C1_35":0.99,"C1_8":1.00},
{"w":4795,"C2_55":1.02,"A_11":1.00,"A_40":1.01,"B_9":1.01,"D_9":1.00,"C2_48":1.00,"C1_35":1.00,"C1_8":1.00},
{"w":4800,"C2_55":1.00,"A_11":1.00,"A_40":1.00,"B_9":1.00,"D_9":1.00,"C2_48":0.99,"C1_35":1.01,"C1_8":1.00},
{"w":4805,"C2_55":1.01,"A_11":1.00,"A_40":1.00,"B_9":1.01,"D_9":1.00,"C2_48":1.01,"C1_35":0.99,"C1_8":1.00},
{"w":4810,"C2_55":0.99,"A_11":1.00,"A_40":1.01,"B_9":1.00,"D_9":1.01,"C2_48":1.00,"C1_35":1.00,"C1_8":1.00},
{"w":4815,"C2_55":1.02,"A_11":1.01,"A_40":1.00,"B_9":1.00,"D_9":1.00,"C2_48":1.01,"C1_35":1.00,"C1_8":1.00},
{"w":4820,"C2_55":1.00,"A_11":1.00,"A_40":1.00,"B_9":1.01,"D_9":1.00,"C2_48":1.00,"C1_35":1.00,"C1_8":0.99},
{"w":4825,"C2_55":0.97,"A_11":1.00,"A_40":1.01,"B_9":1.00,"D_9":1.00,"C2_48":0.99,"C1_35":1.01,"C1_8":1.00},
{"w":4830,"C2_55":1.02,"A_11":1.00,"A_40":1.00,"B_9":1.00,"D_9":1.01,"C2_48":1.01,"C1_35":1.00,"C1_8":1.00},
{"w":4835,"C2_55":1.01,"A_11":1.00,"A_40":1.01,"B_9":1.01,"D_9":1.00,"C2_48":1.00,"C1_35":0.99,"C1_8":1.00},
{"w":4840,"C2_55":1.03,"A_11":1.00,"A_40":1.00,"B_9":1.00,"D_9":1.00,"C2_48":1.01,"C1_35":1.00,"C1_8":1.00},
{"w":4845,"C2_55":1.00,"A_11":1.00,"A_40":0.99,"B_9":0.99,"D_9":0.99,"C2_48":1.02,"C1_35":0.99,"C1_8":0.99},
{"w":4850,"C2_55":0.99,"A_11":0.99,"A_40":0.97,"B_9":0.95,"D_9":0.97,"C2_48":0.99,"C1_35":0.93,"C1_8":0.98},
{"w":4855,"C2_55":0.96,"A_11":0.97,"A_40":0.92,"B_9":0.86,"D_9":0.92,"C2_48":0.96,"C1_35":0.85,"C1_8":0.93},
{"w":4860,"C2_55":0.89,"A_11":0.90,"A_40":0.76,"B_9":0.59,"D_9":0.76,"C2_48":0.85,"C1_35":0.66,"C1_8":0.81},
{"w":4865,"C2_55":0.95,"A_11":0.96,"A_40":0.89,"B_9":0.82,"D_9":0.89,"C2_48":0.93,"C1_35":0.83,"C1_8":0.91},
{"w":4870,"C2_55":1.02,"A_11":0.99,"A_40":0.97,"B_9":0.95,"D_9":0.97,"C2_48":0.98,"C1_35":0.93,"C1_8":0.98},
{"w":4875,"C2_55":1.03,"A_11":1.00,"A_40":0.99,"B_9":0.99,"D_9":0.99,"C2_48":1.00,"C1_35":0.98,"C1_8":0.99},
{"w":4880,"C2_55":1.02,"A_11":1.00,"A_40":1.00,"B_9":1.00,"D_9":1.00,"C2_48":1.01,"C1_35":1.00,"C1_8":1.00},
{"w":4885,"C2_55":1.03,"A_11":1.00,"A_40":1.00,"B_9":1.01,"D_9":1.01,"C2_48":0.99,"C1_35":1.01,"C1_8":1.00},
{"w":4890,"C2_55":1.02,"A_11":1.00,"A_40":1.01,"B_9":1.00,"D_9":1.00,"C2_48":1.01,"C1_35":1.00,"C1_8":1.00},
{"w":4895,"C2_55":1.03,"A_11":1.00,"A_40":1.00,"B_9":1.01,"D_9":1.01,"C2_48":1.00,"C1_35":1.01,"C1_8":1.00},
{"w":4900,"C2_55":1.02,"A_11":1.00,"A_40":1.01,"B_9":1.00,"D_9":1.00,"C2_48":1.01,"C1_35":1.00,"C1_8":1.00}
]},
"transform":[{"fold":["C2_55","A_11","A_40","B_9","D_9","C2_48","C1_35","C1_8"],"as":["key","flux"]}],
"vconcat":[
{"width":884,"height":156.6,"transform":[{"filter":"datum.key === 'C2_55'"}],"resolve":{"axis":{"x":"independent","y":"independent"}},"layer":[
{"mark":{"type":"line","color":"black","strokeWidth":1.3,"clip":true},"encoding":{"x":{"field":"w","type":"quantitative","scale":{"domain":[3900,4900],"nice":false},"axis":{"orient":"bottom","values":[4000,4200,4400,4600,4800],"tickSize":-4,"tickWidth":1.5,"labels":false,"title":null}},"y":{"field":"flux","type":"quantitative","scale":{"domain":[0.2,2.0],"nice":false,"zero":false},"axis":{"orient":"left","values":[0.5,1,1.5,2],"tickSize":-18,"tickWidth":1.5,"format":".1f","labelFontSize":16,"labelPadding":24,"labelFlush":true,"title":null}}}},
{"mark":{"type":"point","opacity":0},"encoding":{"x":{"field":"w","type":"quantitative","axis":{"orient":"bottom","values":[3950,4050,4100,4150,4250,4300,4350,4450,4500,4550,4650,4700,4750,4850],"tickSize":-2,"tickWidth":1.2,"labels":false,"title":null}},"y":{"field":"flux","type":"quantitative","axis":{"orient":"left","values":[0.3,0.4,0.6,0.7,0.8,0.9,1.1,1.2,1.3,1.4,1.6,1.7,1.8,1.9],"tickSize":-9,"tickWidth":1.2,"labels":false,"title":null}}}},
{"mark":{"type":"point","opacity":0},"encoding":{"x":{"field":"w","type":"quantitative","axis":{"orient":"top","values":[4000,4200,4400,4600,4800],"tickSize":-4,"tickWidth":1.5,"labels":false,"title":null}},"y":{"field":"flux","type":"quantitative","axis":{"orient":"right","values":[0.5,1,1.5,2],"tickSize":-18,"tickWidth":1.5,"labels":false,"title":null}}}},
{"mark":{"type":"point","opacity":0},"encoding":{"x":{"field":"w","type":"quantitative","axis":{"orient":"top","values":[3950,4050,4100,4150,4250,4300,4350,4450,4500,4550,4650,4700,4750,4850],"tickSize":-2,"tickWidth":1.2,"labels":false,"title":null}},"y":{"field":"flux","type":"quantitative","axis":{"orient":"right","values":[0.3,0.4,0.6,0.7,0.8,0.9,1.1,1.2,1.3,1.4,1.6,1.7,1.8,1.9],"tickSize":-9,"tickWidth":1.2,"labels":false,"title":null}}}},
{"data":{"name":"labels"},"transform":[{"filter":"datum.key === 'C2_55'"}],"mark":{"type":"text","align":"left","baseline":"alphabetic","font":"DejaVu Sans","fontSize":27,"color":"black"},"encoding":{"x":{"datum":4500,"type":"quantitative","axis":null},"y":{"datum":0.52,"type":"quantitative","axis":null},"text":{"field":"label"}}}
]},
{"width":884,"height":156.6,"transform":[{"filter":"datum.key === 'A_11'"}],"resolve":{"axis":{"x":"independent","y":"independent"}},"layer":[
{"mark":{"type":"line","color":"black","strokeWidth":1.3,"clip":true},"encoding":{"x":{"field":"w","type":"quantitative","scale":{"domain":[3900,4900],"nice":false},"axis":{"orient":"bottom","values":[4000,4200,4400,4600,4800],"tickSize":-4,"tickWidth":1.5,"labels":false,"title":null}},"y":{"field":"flux","type":"quantitative","scale":{"domain":[0.2,2.0],"nice":false,"zero":false},"axis":{"orient":"left","values":[0.5,1,1.5,2],"tickSize":-18,"tickWidth":1.5,"format":".1f","labelFontSize":16,"labelPadding":24,"labelFlush":true,"title":null}}}},
{"mark":{"type":"point","opacity":0},"encoding":{"x":{"field":"w","type":"quantitative","axis":{"orient":"bottom","values":[3950,4050,4100,4150,4250,4300,4350,4450,4500,4550,4650,4700,4750,4850],"tickSize":-2,"tickWidth":1.2,"labels":false,"title":null}},"y":{"field":"flux","type":"quantitative","axis":{"orient":"left","values":[0.3,0.4,0.6,0.7,0.8,0.9,1.1,1.2,1.3,1.4,1.6,1.7,1.8,1.9],"tickSize":-9,"tickWidth":1.2,"labels":false,"title":null}}}},
{"mark":{"type":"point","opacity":0},"encoding":{"x":{"field":"w","type":"quantitative","axis":{"orient":"top","values":[4000,4200,4400,4600,4800],"tickSize":-4,"tickWidth":1.5,"labels":false,"title":null}},"y":{"field":"flux","type":"quantitative","axis":{"orient":"right","values":[0.5,1,1.5,2],"tickSize":-18,"tickWidth":1.5,"labels":false,"title":null}}}},
{"mark":{"type":"point","opacity":0},"encoding":{"x":{"field":"w","type":"quantitative","axis":{"orient":"top","values":[3950,4050,4100,4150,4250,4300,4350,4450,4500,4550,4650,4700,4750,4850],"tickSize":-2,"tickWidth":1.2,"labels":false,"title":null}},"y":{"field":"flux","type":"quantitative","axis":{"orient":"right","values":[0.3,0.4,0.6,0.7,0.8,0.9,1.1,1.2,1.3,1.4,1.6,1.7,1.8,1.9],"tickSize":-9,"tickWidth":1.2,"labels":false,"title":null}}}},
{"data":{"name":"labels"},"transform":[{"filter":"datum.key === 'A_11'"}],"mark":{"type":"text","align":"left","baseline":"alphabetic","font":"DejaVu Sans","fontSize":27,"color":"black"},"encoding":{"x":{"datum":4515,"type":"quantitative","axis":null},"y":{"datum":0.52,"type":"quantitative","axis":null},"text":{"field":"label"}}}
]},
{"width":884,"height":156.6,"transform":[{"filter":"datum.key === 'A_40'"}],"resolve":{"axis":{"x":"independent","y":"independent"}},"layer":[
{"mark":{"type":"line","color":"black","strokeWidth":1.3,"clip":true},"encoding":{"x":{"field":"w","type":"quantitative","scale":{"domain":[3900,4900],"nice":false},"axis":{"orient":"bottom","values":[4000,4200,4400,4600,4800],"tickSize":-4,"tickWidth":1.5,"labels":false,"title":null}},"y":{"field":"flux","type":"quantitative","scale":{"domain":[0.2,2.0],"nice":false,"zero":false},"axis":{"orient":"left","values":[0.5,1,1.5,2],"tickSize":-18,"tickWidth":1.5,"format":".1f","labelFontSize":16,"labelPadding":24,"labelFlush":true,"title":null}}}},
{"mark":{"type":"point","opacity":0},"encoding":{"x":{"field":"w","type":"quantitative","axis":{"orient":"bottom","values":[3950,4050,4100,4150,4250,4300,4350,4450,4500,4550,4650,4700,4750,4850],"tickSize":-2,"tickWidth":1.2,"labels":false,"title":null}},"y":{"field":"flux","type":"quantitative","axis":{"orient":"left","values":[0.3,0.4,0.6,0.7,0.8,0.9,1.1,1.2,1.3,1.4,1.6,1.7,1.8,1.9],"tickSize":-9,"tickWidth":1.2,"labels":false,"title":null}}}},
{"mark":{"type":"point","opacity":0},"encoding":{"x":{"field":"w","type":"quantitative","axis":{"orient":"top","values":[4000,4200,4400,4600,4800],"tickSize":-4,"tickWidth":1.5,"labels":false,"title":null}},"y":{"field":"flux","type":"quantitative","axis":{"orient":"right","values":[0.5,1,1.5,2],"tickSize":-18,"tickWidth":1.5,"labels":false,"title":null}}}},
{"mark":{"type":"point","opacity":0},"encoding":{"x":{"field":"w","type":"quantitative","axis":{"orient":"top","values":[3950,4050,4100,4150,4250,4300,4350,4450,4500,4550,4650,4700,4750,4850],"tickSize":-2,"tickWidth":1.2,"labels":false,"title":null}},"y":{"field":"flux","type":"quantitative","axis":{"orient":"right","values":[0.3,0.4,0.6,0.7,0.8,0.9,1.1,1.2,1.3,1.4,1.6,1.7,1.8,1.9],"tickSize":-9,"tickWidth":1.2,"labels":false,"title":null}}}},
{"data":{"name":"labels"},"transform":[{"filter":"datum.key === 'A_40'"}],"mark":{"type":"text","align":"left","baseline":"alphabetic","font":"DejaVu Sans","fontSize":27,"color":"black"},"encoding":{"x":{"datum":4515,"type":"quantitative","axis":null},"y":{"datum":0.52,"type":"quantitative","axis":null},"text":{"field":"label"}}}
]},
{"width":884,"height":156.6,"transform":[{"filter":"datum.key === 'B_9'"}],"resolve":{"axis":{"x":"independent","y":"independent"}},"layer":[
{"mark":{"type":"line","color":"black","strokeWidth":1.3,"clip":true},"encoding":{"x":{"field":"w","type":"quantitative","scale":{"domain":[3900,4900],"nice":false},"axis":{"orient":"bottom","values":[4000,4200,4400,4600,4800],"tickSize":-4,"tickWidth":1.5,"labels":false,"title":null}},"y":{"field":"flux","type":"quantitative","scale":{"domain":[0.2,2.0],"nice":false,"zero":false},"axis":{"orient":"left","values":[0.5,1,1.5,2],"tickSize":-18,"tickWidth":1.5,"format":".1f","labelFontSize":16,"labelPadding":24,"labelFlush":true,"title":"Normalised Flux","titleFontSize":23,"titleX":-56,"titleY":156.6,"titleBaseline":"middle","titleAlign":"center","titleAngle":-90}}}},
{"mark":{"type":"point","opacity":0},"encoding":{"x":{"field":"w","type":"quantitative","axis":{"orient":"bottom","values":[3950,4050,4100,4150,4250,4300,4350,4450,4500,4550,4650,4700,4750,4850],"tickSize":-2,"tickWidth":1.2,"labels":false,"title":null}},"y":{"field":"flux","type":"quantitative","axis":{"orient":"left","values":[0.3,0.4,0.6,0.7,0.8,0.9,1.1,1.2,1.3,1.4,1.6,1.7,1.8,1.9],"tickSize":-9,"tickWidth":1.2,"labels":false,"title":null}}}},
{"mark":{"type":"point","opacity":0},"encoding":{"x":{"field":"w","type":"quantitative","axis":{"orient":"top","values":[4000,4200,4400,4600,4800],"tickSize":-4,"tickWidth":1.5,"labels":false,"title":null}},"y":{"field":"flux","type":"quantitative","axis":{"orient":"right","values":[0.5,1,1.5,2],"tickSize":-18,"tickWidth":1.5,"labels":false,"title":null}}}},
{"mark":{"type":"point","opacity":0},"encoding":{"x":{"field":"w","type":"quantitative","axis":{"orient":"top","values":[3950,4050,4100,4150,4250,4300,4350,4450,4500,4550,4650,4700,4750,4850],"tickSize":-2,"tickWidth":1.2,"labels":false,"title":null}},"y":{"field":"flux","type":"quantitative","axis":{"orient":"right","values":[0.3,0.4,0.6,0.7,0.8,0.9,1.1,1.2,1.3,1.4,1.6,1.7,1.8,1.9],"tickSize":-9,"tickWidth":1.2,"labels":false,"title":null}}}},
{"data":{"name":"labels"},"transform":[{"filter":"datum.key === 'B_9'"}],"mark":{"type":"text","align":"left","baseline":"alphabetic","font":"DejaVu Sans","fontSize":27,"color":"black"},"encoding":{"x":{"datum":4515,"type":"quantitative","axis":null},"y":{"datum":0.52,"type":"quantitative","axis":null},"text":{"field":"label"}}}
]},
{"width":884,"height":156.6,"transform":[{"filter":"datum.key === 'D_9'"}],"resolve":{"axis":{"x":"independent","y":"independent"}},"layer":[
{"mark":{"type":"line","color":"black","strokeWidth":1.3,"clip":true},"encoding":{"x":{"field":"w","type":"quantitative","scale":{"domain":[3900,4900],"nice":false},"axis":{"orient":"bottom","values":[4000,4200,4400,4600,4800],"tickSize":-4,"tickWidth":1.5,"labels":false,"title":null}},"y":{"field":"flux","type":"quantitative","scale":{"domain":[0.2,2.0],"nice":false,"zero":false},"axis":{"orient":"left","values":[0.5,1,1.5,2],"tickSize":-18,"tickWidth":1.5,"format":".1f","labelFontSize":16,"labelPadding":24,"labelFlush":true,"title":null}}}},
{"mark":{"type":"point","opacity":0},"encoding":{"x":{"field":"w","type":"quantitative","axis":{"orient":"bottom","values":[3950,4050,4100,4150,4250,4300,4350,4450,4500,4550,4650,4700,4750,4850],"tickSize":-2,"tickWidth":1.2,"labels":false,"title":null}},"y":{"field":"flux","type":"quantitative","axis":{"orient":"left","values":[0.3,0.4,0.6,0.7,0.8,0.9,1.1,1.2,1.3,1.4,1.6,1.7,1.8,1.9],"tickSize":-9,"tickWidth":1.2,"labels":false,"title":null}}}},
{"mark":{"type":"point","opacity":0},"encoding":{"x":{"field":"w","type":"quantitative","axis":{"orient":"top","values":[4000,4200,4400,4600,4800],"tickSize":-4,"tickWidth":1.5,"labels":false,"title":null}},"y":{"field":"flux","type":"quantitative","axis":{"orient":"right","values":[0.5,1,1.5,2],"tickSize":-18,"tickWidth":1.5,"labels":false,"title":null}}}},
{"mark":{"type":"point","opacity":0},"encoding":{"x":{"field":"w","type":"quantitative","axis":{"orient":"top","values":[3950,4050,4100,4150,4250,4300,4350,4450,4500,4550,4650,4700,4750,4850],"tickSize":-2,"tickWidth":1.2,"labels":false,"title":null}},"y":{"field":"flux","type":"quantitative","axis":{"orient":"right","values":[0.3,0.4,0.6,0.7,0.8,0.9,1.1,1.2,1.3,1.4,1.6,1.7,1.8,1.9],"tickSize":-9,"tickWidth":1.2,"labels":false,"title":null}}}},
{"data":{"name":"labels"},"transform":[{"filter":"datum.key === 'D_9'"}],"mark":{"type":"text","align":"left","baseline":"alphabetic","font":"DejaVu Sans","fontSize":27,"color":"black"},"encoding":{"x":{"datum":4515,"type":"quantitative","axis":null},"y":{"datum":0.52,"type":"quantitative","axis":null},"text":{"field":"label"}}}
]},
{"width":884,"height":156.6,"transform":[{"filter":"datum.key === 'C2_48'"}],"resolve":{"axis":{"x":"independent","y":"independent"}},"layer":[
{"mark":{"type":"line","color":"black","strokeWidth":1.3,"clip":true},"encoding":{"x":{"field":"w","type":"quantitative","scale":{"domain":[3900,4900],"nice":false},"axis":{"orient":"bottom","values":[4000,4200,4400,4600,4800],"tickSize":-4,"tickWidth":1.5,"labels":false,"title":null}},"y":{"field":"flux","type":"quantitative","scale":{"domain":[0.2,2.0],"nice":false,"zero":false},"axis":{"orient":"left","values":[0.5,1,1.5,2],"tickSize":-18,"tickWidth":1.5,"format":".1f","labelFontSize":16,"labelPadding":24,"labelFlush":true,"title":null}}}},
{"mark":{"type":"point","opacity":0},"encoding":{"x":{"field":"w","type":"quantitative","axis":{"orient":"bottom","values":[3950,4050,4100,4150,4250,4300,4350,4450,4500,4550,4650,4700,4750,4850],"tickSize":-2,"tickWidth":1.2,"labels":false,"title":null}},"y":{"field":"flux","type":"quantitative","axis":{"orient":"left","values":[0.3,0.4,0.6,0.7,0.8,0.9,1.1,1.2,1.3,1.4,1.6,1.7,1.8,1.9],"tickSize":-9,"tickWidth":1.2,"labels":false,"title":null}}}},
{"mark":{"type":"point","opacity":0},"encoding":{"x":{"field":"w","type":"quantitative","axis":{"orient":"top","values":[4000,4200,4400,4600,4800],"tickSize":-4,"tickWidth":1.5,"labels":false,"title":null}},"y":{"field":"flux","type":"quantitative","axis":{"orient":"right","values":[0.5,1,1.5,2],"tickSize":-18,"tickWidth":1.5,"labels":false,"title":null}}}},
{"mark":{"type":"point","opacity":0},"encoding":{"x":{"field":"w","type":"quantitative","axis":{"orient":"top","values":[3950,4050,4100,4150,4250,4300,4350,4450,4500,4550,4650,4700,4750,4850],"tickSize":-2,"tickWidth":1.2,"labels":false,"title":null}},"y":{"field":"flux","type":"quantitative","axis":{"orient":"right","values":[0.3,0.4,0.6,0.7,0.8,0.9,1.1,1.2,1.3,1.4,1.6,1.7,1.8,1.9],"tickSize":-9,"tickWidth":1.2,"labels":false,"title":null}}}},
{"data":{"name":"labels"},"transform":[{"filter":"datum.key === 'C2_48'"}],"mark":{"type":"text","align":"left","baseline":"alphabetic","font":"DejaVu Sans","fontSize":27,"color":"black"},"encoding":{"x":{"datum":4500,"type":"quantitative","axis":null},"y":{"datum":0.52,"type":"quantitative","axis":null},"text":{"field":"label"}}}
]},
{"width":884,"height":156.6,"transform":[{"filter":"datum.key === 'C1_35'"}],"resolve":{"axis":{"x":"independent","y":"independent"}},"layer":[
{"mark":{"type":"line","color":"black","strokeWidth":1.3,"clip":true},"encoding":{"x":{"field":"w","type":"quantitative","scale":{"domain":[3900,4900],"nice":false},"axis":{"orient":"bottom","values":[4000,4200,4400,4600,4800],"tickSize":-4,"tickWidth":1.5,"labels":false,"title":null}},"y":{"field":"flux","type":"quantitative","scale":{"domain":[0.2,2.0],"nice":false,"zero":false},"axis":{"orient":"left","values":[0.5,1,1.5,2],"tickSize":-18,"tickWidth":1.5,"format":".1f","labelFontSize":16,"labelPadding":24,"labelFlush":true,"title":null}}}},
{"mark":{"type":"point","opacity":0},"encoding":{"x":{"field":"w","type":"quantitative","axis":{"orient":"bottom","values":[3950,4050,4100,4150,4250,4300,4350,4450,4500,4550,4650,4700,4750,4850],"tickSize":-2,"tickWidth":1.2,"labels":false,"title":null}},"y":{"field":"flux","type":"quantitative","axis":{"orient":"left","values":[0.3,0.4,0.6,0.7,0.8,0.9,1.1,1.2,1.3,1.4,1.6,1.7,1.8,1.9],"tickSize":-9,"tickWidth":1.2,"labels":false,"title":null}}}},
{"mark":{"type":"point","opacity":0},"encoding":{"x":{"field":"w","type":"quantitative","axis":{"orient":"top","values":[4000,4200,4400,4600,4800],"tickSize":-4,"tickWidth":1.5,"labels":false,"title":null}},"y":{"field":"flux","type":"quantitative","axis":{"orient":"right","values":[0.5,1,1.5,2],"tickSize":-18,"tickWidth":1.5,"labels":false,"title":null}}}},
{"mark":{"type":"point","opacity":0},"encoding":{"x":{"field":"w","type":"quantitative","axis":{"orient":"top","values":[3950,4050,4100,4150,4250,4300,4350,4450,4500,4550,4650,4700,4750,4850],"tickSize":-2,"tickWidth":1.2,"labels":false,"title":null}},"y":{"field":"flux","type":"quantitative","axis":{"orient":"right","values":[0.3,0.4,0.6,0.7,0.8,0.9,1.1,1.2,1.3,1.4,1.6,1.7,1.8,1.9],"tickSize":-9,"tickWidth":1.2,"labels":false,"title":null}}}},
{"data":{"name":"labels"},"transform":[{"filter":"datum.key === 'C1_35'"}],"mark":{"type":"text","align":"left","baseline":"alphabetic","font":"DejaVu Sans","fontSize":27,"color":"black"},"encoding":{"x":{"datum":4500,"type":"quantitative","axis":null},"y":{"datum":0.52,"type":"quantitative","axis":null},"text":{"field":"label"}}}
]},
{"width":884,"height":156.6,"transform":[{"filter":"datum.key === 'C1_8'"}],"resolve":{"axis":{"x":"independent","y":"independent"}},"layer":[
{"mark":{"type":"line","color":"black","strokeWidth":1.3,"clip":true},"encoding":{"x":{"field":"w","type":"quantitative","scale":{"domain":[3900,4900],"nice":false},"axis":{"orient":"bottom","values":[4000,4200,4400,4600,4800],"tickSize":-4,"tickWidth":1.5,"labels":true,"labelFontSize":24,"labelPadding":18,"labelFlush":false,"format":"d","title":"Wavelength (Å)","titleFontSize":25,"titleX":442,"titleY":60,"titleBaseline":"middle","titleAlign":"center"}},"y":{"field":"flux","type":"quantitative","scale":{"domain":[0.2,2.0],"nice":false,"zero":false},"axis":{"orient":"left","values":[0.5,1,1.5,2],"tickSize":-18,"tickWidth":1.5,"format":".1f","labelFontSize":16,"labelPadding":24,"labelFlush":true,"title":null}}}},
{"mark":{"type":"point","opacity":0},"encoding":{"x":{"field":"w","type":"quantitative","axis":{"orient":"bottom","values":[3950,4050,4100,4150,4250,4300,4350,4450,4500,4550,4650,4700,4750,4850],"tickSize":-2,"tickWidth":1.2,"labels":false,"title":null}},"y":{"field":"flux","type":"quantitative","axis":{"orient":"left","values":[0.3,0.4,0.6,0.7,0.8,0.9,1.1,1.2,1.3,1.4,1.6,1.7,1.8,1.9],"tickSize":-9,"tickWidth":1.2,"labels":false,"title":null}}}},
{"mark":{"type":"point","opacity":0},"encoding":{"x":{"field":"w","type":"quantitative","axis":{"orient":"top","values":[4000,4200,4400,4600,4800],"tickSize":-4,"tickWidth":1.5,"labels":false,"title":null}},"y":{"field":"flux","type":"quantitative","axis":{"orient":"right","values":[0.5,1,1.5,2],"tickSize":-18,"tickWidth":1.5,"labels":false,"title":null}}}},
{"mark":{"type":"point","opacity":0},"encoding":{"x":{"field":"w","type":"quantitative","axis":{"orient":"top","values":[3950,4050,4100,4150,4250,4300,4350,4450,4500,4550,4650,4700,4750,4850],"tickSize":-2,"tickWidth":1.2,"labels":false,"title":null}},"y":{"field":"flux","type":"quantitative","axis":{"orient":"right","values":[0.3,0.4,0.6,0.7,0.8,0.9,1.1,1.2,1.3,1.4,1.6,1.7,1.8,1.9],"tickSize":-9,"tickWidth":1.2,"labels":false,"title":null}}}},
{"data":{"name":"labels"},"transform":[{"filter":"datum.key === 'C1_8'"}],"mark":{"type":"text","align":"left","baseline":"alphabetic","font":"DejaVu Sans","fontSize":27,"color":"black"},"encoding":{"x":{"datum":4500,"type":"quantitative","axis":null},"y":{"datum":0.52,"type":"quantitative","axis":null},"text":{"field":"label"}}}
]}
]
}
